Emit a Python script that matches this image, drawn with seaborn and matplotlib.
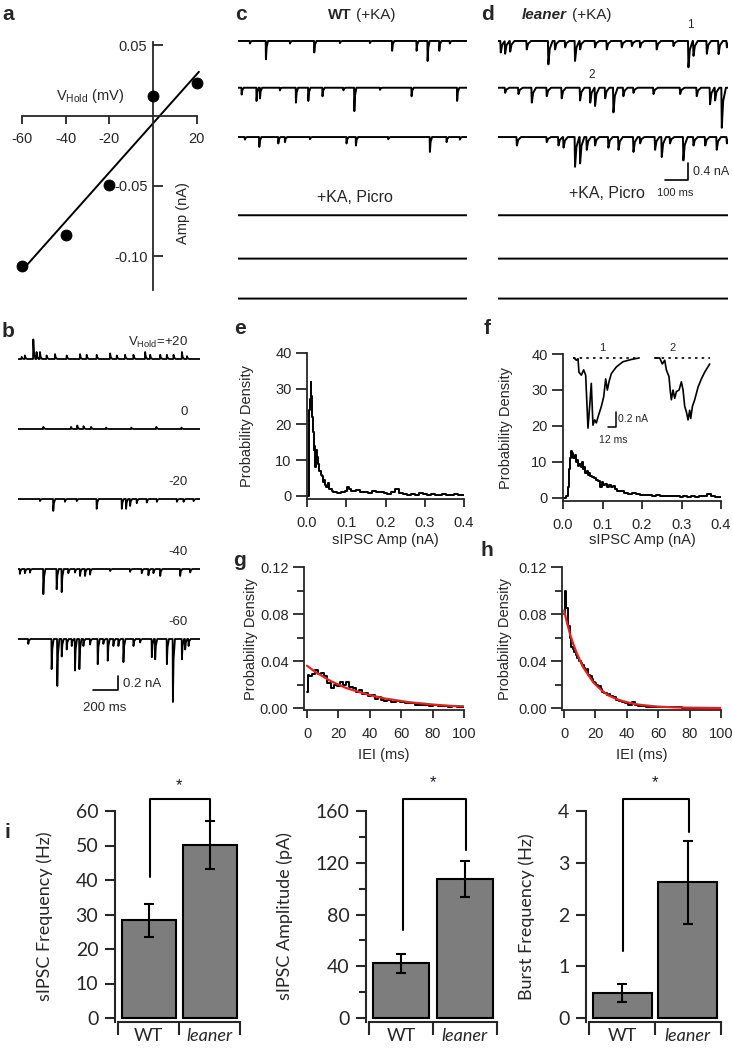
import matplotlib
matplotlib.use('Agg')
import matplotlib.pyplot as plt
import seaborn as sns
import numpy as np
from matplotlib.ticker import FormatStrFormatter, MultipleLocator

# ---------------- data ----------------
# a: I-V relation
iv_vhold = [-60, -40, -20, 0, 20]
iv_amp = [-0.107, -0.085, -0.049, 0.014, 0.023]
iv_fit_v = [-60, 21]
iv_fit_amp = [-0.11, 0.031]

# b: sIPSCs at several holding potentials (event time ms, amplitude nA)
b_labels = [r'V$_{\mathregular{Hold}}$=+20', '0', '-20', '-40', '-60']
b_times = [
    [27, 53, 120, 146, 173, 226, 293, 386, 492, 545, 625, 732, 785, 851, 918, 1011, 1051, 1131, 1184, 1237, 1304, 1344],
    [200, 420, 470, 520, 580, 700, 900, 1100, 1300],
    [173, 279, 372, 466, 625, 825, 859, 891, 944, 1024, 1104, 1264, 1317, 1397],
    [13, 53, 93, 200, 306, 346, 399, 452, 492, 532, 572, 732, 891, 984, 1037, 1077, 1131, 1290, 1370],
    [80, 266, 311, 346, 386, 426, 452, 487, 519, 572, 633, 678, 713, 758, 798, 838, 918, 971, 1064, 1091,
     1184, 1232, 1304, 1330, 1357],
]
b_amps = [
    [0.03, 0.05, 0.28, 0.1, 0.1, 0.05, 0.07, 0.05, 0.07, 0.06, 0.06, 0.08, 0.05, 0.06, 0.06, 0.1, 0.06, 0.06, 0.06, 0.06, 0.1, 0.04],
    [0.03, 0.03, 0.05, 0.04, 0.03, 0.02, 0.02, 0.03, 0.02],
    [-0.03, -0.17, -0.04, -0.03, -0.14, -0.14, -0.14, -0.1, -0.06, -0.05, -0.04, -0.04, -0.04, -0.03],
    [-0.07, -0.06, -0.05, -0.36, -0.29, -0.33, -0.06, -0.05, -0.1, -0.1, -0.08, -0.03, -0.04, -0.06, -0.09,
     -0.06, -0.1, -0.1, -0.05],
    [-0.07, -0.43, -0.67, -0.25, -0.15, -0.1, -0.45, -0.43, -0.1, -0.08, -0.36, -0.07, -0.31, -0.1, -0.1,
     -0.33, -0.1, -0.05, -0.26, -0.29, -0.36, -0.9, -0.29, -0.15, -0.1],
]

# c: WT (+KA) sweeps, then 3 sweeps with picrotoxin (no events)
c_times = [
    [51, 121, 226, 332, 444, 575, 672, 779, 827, 878, 924],
    [15, 80, 95, 182, 252, 306, 368, 459, 507, 619, 757, 956],
    [29, 92, 175, 204, 313, 473, 514, 655, 837, 910, 968],
    [], [], [],
]
c_amps = [
    [-0.06, -0.43, -0.06, -0.27, -0.05, -0.05, -0.23, -0.23, -0.47, -0.23, -0.06],
    [-0.16, -0.31, -0.25, -0.06, -0.35, -0.31, -0.2, -0.06, -0.55, -0.05, -0.2, -0.31],
    [-0.06, -0.23, -0.15, -0.12, -0.05, -0.15, -0.2, -0.05, -0.35, -0.12, -0.06],
    [], [], [],
]

# d: leaner (+KA) sweeps, then picrotoxin sweeps
d_times = [
    [10, 29, 51, 123, 217, 246, 290, 333, 355, 420, 471, 536, 580, 616, 688, 761, 826, 848, 906, 957, 993],
    [29, 87, 145, 210, 275, 355, 399, 420, 464, 500, 543, 587, 674, 790, 862, 920, 942, 971],
    [80, 210, 261, 283, 333, 355, 384, 420, 478, 522, 587, 616, 681, 710, 746, 804, 848, 899, 949, 993],
    [], [], [],
]
d_amps = [
    [-0.27, -0.3, -0.25, -0.2, -0.55, -0.2, -0.15, -0.47, -0.2, -0.15, -0.2, -0.15, -0.12, -0.15, -0.2,
     -0.12, -0.62, -0.35, -0.3, -0.31, -0.15],
    [-0.12, -0.15, -0.35, -0.2, -0.25, -0.3, -0.35, -0.43, -0.25, -0.58, -0.2, -0.12, -0.15, -0.15, -0.2,
     -0.39, -0.3, -0.94],
    [-0.2, -0.12, -0.2, -0.25, -0.7, -0.62, -0.3, -0.2, -0.25, -0.3, -0.35, -0.15, -0.3, -0.47, -0.15,
     -0.55, -0.2, -0.2, -0.3, -0.15],
    [], [], [],
]
sweep_offsets = [0, -1.1, -2.26, -4.1, -5.12, -6.06]

# e/f: amplitude distributions
e_amp = [0.0, 0.004, 0.006, 0.008, 0.010, 0.012, 0.014, 0.016, 0.018, 0.020, 0.022, 0.024, 0.026, 0.028,
         0.030, 0.033, 0.036, 0.039, 0.042, 0.045, 0.048, 0.051, 0.054, 0.057, 0.060, 0.065, 0.070, 0.075,
         0.080, 0.085, 0.090, 0.095, 0.100, 0.105, 0.110, 0.115, 0.120, 0.130, 0.140, 0.150, 0.160, 0.170,
         0.180, 0.190, 0.200, 0.210, 0.220, 0.230, 0.240, 0.250, 0.260, 0.270, 0.280, 0.290, 0.300, 0.310,
         0.320, 0.330, 0.340, 0.350, 0.360, 0.370, 0.380, 0.390, 0.400]
e_density = [0, 0, 24, 27, 32, 28, 22, 18, 13, 14, 8, 13, 11, 10,
             9, 7, 6, 5.5, 4, 4.5, 3, 2.5, 3.5, 2, 2, 1.5, 1, 1.2,
             0.8, 0.9, 1.2, 1, 1.5, 2.5, 2, 1.5, 1.5, 1.8, 1, 1.2, 0.8, 1.5,
             1, 1.2, 0.8, 0.5, 1.2, 2, 0.8, 0.5, 0.3, 0.5, 0.4, 0.8, 0.5, 0.3,
             0.5, 0.3, 0.4, 0.5, 0.3, 0.4, 0.5, 0.3, 0.4]
f_amp = [0.0, 0.005, 0.010, 0.013, 0.016, 0.019, 0.022, 0.025, 0.028, 0.031, 0.034, 0.037, 0.040, 0.043,
         0.046, 0.049, 0.052, 0.055, 0.058, 0.061, 0.064, 0.067, 0.070, 0.075, 0.080, 0.085, 0.090, 0.095,
         0.100, 0.105, 0.110, 0.115, 0.120, 0.125, 0.130, 0.135, 0.140, 0.150, 0.160, 0.170, 0.180, 0.190,
         0.200, 0.210, 0.220, 0.230, 0.240, 0.250, 0.260, 0.270, 0.280, 0.290, 0.300, 0.310, 0.320, 0.330,
         0.340, 0.350, 0.360, 0.370, 0.380, 0.390, 0.400]
f_density = [0, 0, 0.5, 3, 8, 11, 13, 12.5, 11, 12, 10, 10.5, 9, 9.5,
             8.5, 10, 8, 8.5, 7, 7.5, 6.5, 6.8, 6, 5.8, 5.5, 5, 4.8, 3,
             4.5, 3.5, 4, 3, 3.5, 3, 3.2, 2.5, 2, 1.8, 1.5, 1.2, 1.3, 1.0,
             0.9, 0.8, 0.8, 0.6, 0.7, 0.5, 0.6, 0.5, 0.5, 0.6, 0.4, 0.5, 0.4, 0.5,
             0.4, 0.5, 0.6, 1.0, 0.5, 0.3, 0.3]

# f inset: example events 1 and 2 (ms, nA)
ev1_t = [0, 3.7, 6.3, 7.8, 11.5, 15.1, 18.3, 21.9, 24.5, 27.1, 29.7, 32.4, 35.0, 37.6, 42.8, 46.5, 49.6,
         52.2, 54.8, 58.4, 66.3, 76.7, 89.8, 101.8]
ev1_i = [0, -0.03, -0.01, -0.19, -0.23, -0.16, -0.23, -0.94, -0.65, -0.34, -0.90, -0.83, -0.87, -0.79,
         -0.65, -0.52, -0.28, -0.43, -0.32, -0.21, -0.12, -0.05, -0.02, 0]
ev2_t = [0, 7.8, 12.0, 15.7, 18.3, 22.4, 24.5, 26.1, 28.7, 31.3, 34.0, 38.1, 41.8, 44.4, 47.0, 49.6, 52.2,
         54.8, 56.4, 59.0, 62.6, 67.9, 73.1, 78.3, 86.1]
ev2_i = [0, 0, -0.08, -0.03, -0.16, -0.25, -0.45, -0.56, -0.43, -0.54, -0.45, -0.43, -0.32, -0.43, -0.65,
         -0.72, -0.83, -0.70, -0.81, -0.65, -0.56, -0.39, -0.28, -0.19, -0.08]

# g/h: inter-event interval distributions + exponential fits
g_iei = [0, 1, 2, 4, 6, 8, 10, 12, 14, 16, 18, 20, 22, 24, 26, 28, 30, 32, 34, 36, 38, 40, 42, 44, 46, 48,
         50, 52, 55, 58, 61, 64, 67, 70, 73, 76, 79, 82, 85, 88, 91, 94, 97, 100]
g_density = [0.014, 0.028, 0.027, 0.029, 0.032, 0.029, 0.03, 0.027, 0.021, 0.017, 0.02, 0.019, 0.022, 0.02,
             0.022, 0.018, 0.017, 0.014, 0.015, 0.012, 0.013, 0.01, 0.011, 0.008, 0.009, 0.007, 0.006,
             0.007, 0.005, 0.006, 0.005, 0.004, 0.004, 0.003, 0.003, 0.003, 0.002, 0.003, 0.002, 0.002,
             0.001, 0.002, 0.001, 0.001]
g_fit_t = [0, 5, 10, 15, 20, 25, 30, 35, 40, 45, 50, 55, 60, 65, 70, 75, 80, 85, 90, 95, 100]
g_fit = [0.036, 0.031, 0.027, 0.023, 0.020, 0.017, 0.015, 0.013, 0.011, 0.0095, 0.008, 0.007, 0.006,
         0.005, 0.0043, 0.0037, 0.003, 0.0025, 0.002, 0.0017, 0.0015]
h_iei = [0, 1, 2, 3, 4, 5, 6, 7, 8, 9, 10, 11, 12, 13, 14, 15, 16, 17, 18, 19, 20, 21, 22, 23, 24, 25, 26,
         27, 28, 29, 30, 32, 34, 36, 38, 40, 42, 44, 46, 48, 50, 55, 60, 65, 70, 80, 90, 100]
h_density = [0.08, 0.1, 0.085, 0.07, 0.06, 0.052, 0.05, 0.048, 0.045, 0.043, 0.04, 0.038, 0.037, 0.034,
             0.032, 0.033, 0.028, 0.027, 0.025, 0.022, 0.021, 0.02, 0.018, 0.019, 0.016, 0.014, 0.013,
             0.013, 0.011, 0.012, 0.01, 0.009, 0.007, 0.006, 0.005, 0.004, 0.003, 0.005, 0.003, 0.002,
             0.0015, 0.001, 0.0008, 0.0006, 0.0005, 0.0004, 0.0003, 0.0002]
h_fit_t = [0, 2, 4, 6, 8, 10, 12, 14, 16, 18, 20, 24, 28, 32, 36, 40, 45, 50, 60, 70, 80, 100]
h_fit = [0.083, 0.072, 0.062, 0.054, 0.047, 0.041, 0.035, 0.031, 0.027, 0.023, 0.020, 0.015, 0.011,
         0.0085, 0.0065, 0.005, 0.0035, 0.0025, 0.0012, 0.0006, 0.0003, 0.0001]

# i: summary bars (mean, SEM)
genotypes = ['WT', 'leaner']
freq_mean = [28.3, 50.2]
freq_sem = [4.8, 6.9]
amp_mean = [42.3, 107.5]
amp_sem = [7.3, 13.8]
burst_mean = [0.48, 2.62]
burst_sem = [0.17, 0.80]

# ---------------- figure ----------------
W, H = 732, 1050
sns.set_style('ticks')
plt.rcParams['font.family'] = ['Liberation Sans', 'DejaVu Sans']
plt.rcParams['axes.unicode_minus'] = False
plt.rcParams['axes.linewidth'] = 1.3
plt.rcParams['xtick.major.width'] = 1.3
plt.rcParams['ytick.major.width'] = 1.3
plt.rcParams['ytick.minor.width'] = 1.3
fig = plt.figure(figsize=(W / 100, H / 100), dpi=100)


def px_axes(l, t, r, b):
    return fig.add_axes([l / W, 1 - b / H, (r - l) / W, (b - t) / H])


def ftext(x, y, s, **kw):
    fig.text(x / W, 1 - y / H, s, **kw)


def make_trace(times, amps, dur, rise, decay):
    t = np.arange(0, dur + 0.5, 0.5)
    y = np.zeros_like(t)
    for t0, a in zip(times, amps):
        y += a * np.interp(t, [t0, t0 + rise, t0 + rise + decay * 0.3, t0 + rise + decay],
                           [0, 1, 0.35, 0], left=0, right=0)
    return t, y


def draw_line(ax, x, y, **kw):
    sns.lineplot(x=x, y=y, ax=ax, estimator=None, sort=False, errorbar=None, **kw)


# panel labels
for lab, x, y in [('a', 8, 14), ('b', 8, 331), ('c', 241, 14), ('d', 488, 14), ('e', 240, 328),
                  ('f', 487, 328), ('g', 240, 560), ('h', 487, 550), ('i', 7, 832)]:
    ftext(x, y, lab, fontsize=15, fontweight='bold', ha='center', va='center')

# ---- a ----
ax = px_axes(17.6, 42.2, 201.1, 290.3)
sns.scatterplot(x=iv_vhold, y=iv_amp, ax=ax, color='k', s=62, edgecolor='k', zorder=3, clip_on=False)
draw_line(ax, iv_fit_v, iv_fit_amp, color='k', lw=1.4)
ax.set_xlim(-62, 22)
ax.set_ylim(-0.124, 0.052)
for s in ['top', 'right']:
    ax.spines[s].set_visible(False)
ax.spines['left'].set_position(('data', 0))
ax.spines['bottom'].set_position(('data', 0))
ax.spines['bottom'].set_bounds(-60, 20)
ax.set_xticks([-60, -40, -20, 20])
ax.set_yticks([0.05, -0.05, -0.10])
ax.set_yticklabels(['0.05', '-0.05', '-0.10'])
ax.tick_params(axis='x', direction='out', length=6, pad=6, labelsize=10.5)
ax.tick_params(axis='y', direction='in', length=7, pad=4, labelsize=10.5)
ax.set_xlabel('')
ax.set_ylabel('')
ftext(90, 96, r'V$_{\mathregular{Hold}}$ (mV)', fontsize=10.5, ha='center', va='center')
ftext(183, 213, 'Amp (nA)', fontsize=10.5, ha='center', va='center', rotation=90)

# ---- b ----
ax = px_axes(18, 320, 200, 720)
for k in range(5):
    t, y = make_trace(b_times[k], b_amps[k], 1450, 2, 16)
    draw_line(ax, t, y - k, color='k', lw=1.3)
    ax.text(1354, -k + 0.24, b_labels[k], fontsize=9.5, ha='right', va='center')
ax.set_xlim(0, 1450)
ax.set_ylim(-5.157, 0.557)
ax.plot([598, 798, 798], [-4.73, -4.73, -4.53], color='k', lw=1.2)
ax.text(837, -4.64, '0.2 nA', fontsize=9.5, ha='left', va='center')
ax.text(693, -4.99, '200 ms', fontsize=9.5, ha='center', va='center')
ax.axis('off')

# ---- c / d ----
for times, amps, left, right, rise, decay in [(c_times, c_amps, 238, 467, 1, 9),
                                              (d_times, d_amps, 498, 728, 2, 18)]:
    ax = px_axes(left, 25, right, 310)
    for k in range(6):
        t, y = make_trace(times[k], amps[k], 1000, rise, decay)
        draw_line(ax, t, y + sweep_offsets[k], color='k', lw=1.4)
    ax.set_xlim(0, 1000)
    ax.set_ylim(-6.329, 0.376)
    ax.axis('off')
    if left > 400:
        ax.plot([726, 826, 826], [-3.27, -3.27, -2.87], color='k', lw=1.2)
        ax.text(848, -3.08, '0.4 nA', fontsize=9, ha='left', va='center')
        ax.text(770, -3.58, '100 ms', fontsize=8, ha='center', va='center')

ftext(352, 15, 'WT', fontsize=11, fontweight='bold', ha='right', va='center')
ftext(356, 15, '(+KA)', fontsize=11, ha='left', va='center')
ftext(567, 15, 'leaner', fontsize=11, fontweight='bold', fontstyle='italic', ha='right', va='center')
ftext(572, 15, '(+KA)', fontsize=11, ha='left', va='center')
ftext(355, 198, '+KA, Picro', fontsize=11.5, ha='center', va='center')
ftext(607, 194, '+KA, Picro', fontsize=11.5, ha='center', va='center')
ftext(690, 25, '1', fontsize=8.5, ha='center', va='center')
ftext(592, 75, '2', fontsize=8.5, ha='center', va='center')


def style_hist(ax, xlabel_y, ylabel_x, rect):
    for s in ['top', 'right']:
        ax.spines[s].set_visible(False)
    ax.tick_params(axis='both', direction='out', labelsize=10.5)
    ax.tick_params(axis='x', length=6, pad=6)
    ax.tick_params(axis='y', length=8, pad=3)
    l, t, r, b = rect
    ax.xaxis.set_label_coords(0.5, (b - xlabel_y) / (b - t))
    ax.yaxis.set_label_coords((ylabel_x - l) / (r - l), 0.5)
    ax.xaxis.label.set_va('center')
    ax.yaxis.label.set_va('center')
    ax.xaxis.label.set_fontsize(10.5)
    ax.yaxis.label.set_fontsize(10.5)


# ---- e / f ----
for amp, dens, rect, ylx in [(e_amp, e_density, (307, 353, 464, 499.2), 247),
                             (f_amp, f_density, (563, 354, 721, 501.2), 506)]:
    ax = px_axes(*rect)
    draw_line(ax, amp, dens, color='k', lw=1.4, drawstyle='steps-mid')
    ax.set_xlim(0, 0.4)
    ax.set_ylim(-0.9, 40)
    ax.set_xticks([0, 0.1, 0.2, 0.3, 0.4])
    ax.set_yticks([0, 10, 20, 30, 40])
    ax.xaxis.set_major_formatter(FormatStrFormatter('%.1f'))
    ax.set_xlabel('sIPSC Amp (nA)')
    ax.set_ylabel('Probability Density')
    style_hist(ax, 540, ylx, rect)

# f inset traces
ax = px_axes(572, 352, 712, 430)
ev2_off = 126.3
draw_line(ax, ev1_t, ev1_i, color='k', lw=1.2)
draw_line(ax, [t + ev2_off for t in ev2_t], ev2_i, color='k', lw=1.2)
ax.plot([-1.6, 102.8], [0, 0], color='k', lw=1.2, ls=(0, (1.5, 2.5)))
ax.plot([ev2_off, ev2_off + 86.1], [0, 0], color='k', lw=1.2, ls=(0, (1.5, 2.5)))
ax.plot([53.2, 65.3, 65.3], [-0.92, -0.92, -0.72], color='k', lw=1.1)
ax.text(69, -0.82, '0.2 nA', fontsize=7.5, ha='left', va='center')
ax.text(61, -1.10, '12 ms', fontsize=7.5, ha='center', va='center', clip_on=False)
ax.text(44.4, 0.13, '1', fontsize=8, ha='center', va='center')
ax.text(154, 0.13, '2', fontsize=8, ha='center', va='center')
ax.set_xlim(-3.1, 216)
ax.set_ylim(-0.965, 0.08)
ax.axis('off')

# ---- g / h ----
for iei, dens, ft, fv, rect, ylx, xmin in [
        (g_iei, g_density, g_fit_t, g_fit, (303.9, 567, 464, 710.4), 251, -2),
        (h_iei, h_density, h_fit_t, h_fit, (562, 567, 721, 710.4), 505, -1.3)]:
    ax = px_axes(*rect)
    draw_line(ax, iei, dens, color='k', lw=1.4, drawstyle='steps-mid')
    draw_line(ax, ft, fv, color='#e3231f', lw=1.6)
    ax.set_xlim(xmin, 100)
    ax.set_ylim(-0.002, 0.12)
    ax.set_xticks([0, 20, 40, 60, 80, 100])
    ax.set_yticks([0, 0.04, 0.08, 0.12])
    ax.yaxis.set_minor_locator(MultipleLocator(0.02))
    ax.yaxis.set_major_formatter(FormatStrFormatter('%.2f'))
    ax.tick_params(axis='y', which='minor', direction='out', length=5)
    ax.set_xlabel('IEI (ms)')
    ax.set_ylabel('Probability Density')
    style_hist(ax, 755, ylx, rect)

# ---- i: bar charts ----
bar_specs = [
    (freq_mean, freq_sem, 'sIPSC Frequency (Hz)', (115, 811, 241.5, 1022), 60, 10, None, 45,
     (0.03, 41, 1.0, 57.5, 63.5, 67.5), 0.88),
    (amp_mean, amp_sem, 'sIPSC Amplitude (pA)', (366, 811, 498, 1022), 160, 40, 20, 285,
     (0.03, 68, 1.02, 130, 169.2, 182), 0.875),
    (burst_mean, burst_sem, 'Burst Frequency (Hz)', (586, 811, 722, 1022), 4, 1, None, 527,
     (0.02, 1.29, 1.02, 3.6, 4.23, 4.55), 0.9),
]
for means, sems, ylab, rect, ytop, ystep, yminor, ylx, br, bw in bar_specs:
    ax = px_axes(*rect)
    sns.barplot(x=genotypes, y=means, ax=ax, color='#7d7d7d', saturation=1, edgecolor='k',
                linewidth=1.5, width=bw)
    ax.errorbar([0, 1], means, yerr=sems, fmt='none', ecolor='k', elinewidth=1.5, capsize=3.6,
                capthick=1.5)
    ypx = (rect[3] - rect[1])
    ax.set_ylim(-ytop * 4 / (ypx - 4), ytop)
    ax.set_xlim(-0.55, 1.52)
    for s in ['top', 'right']:
        ax.spines[s].set_visible(False)
    ax.spines['left'].set_linewidth(1.5)
    ax.spines['bottom'].set_linewidth(1.5)
    ax.spines['bottom'].set_bounds(-0.5, 1.5)
    ax.set_yticks(np.arange(0, ytop + ystep / 2, ystep))
    if yminor:
        ax.yaxis.set_minor_locator(MultipleLocator(yminor))
        ax.tick_params(axis='y', which='minor', direction='out', length=5, width=1.5)
    ax.set_xticks([0, 1])
    ax.set_xticks([-0.5, 0.5, 1.5], minor=True)
    ax.tick_params(axis='x', which='major', length=0, pad=4.5)
    ax.tick_params(axis='x', which='minor', direction='out', length=9.5, width=1.5)
    ax.tick_params(axis='y', which='major', direction='out', length=7, width=1.5, pad=5)
    for lbl in ax.get_yticklabels():
        lbl.set_fontfamily('Lato')
        lbl.set_fontsize(14)
    for lbl in ax.get_xticklabels():
        lbl.set_fontfamily('Lato')
        lbl.set_fontsize(13)
    ax.get_xticklabels()[1].set_style('italic')
    ax.set_xlabel('')
    ax.set_ylabel(ylab, fontfamily='Lato', fontsize=13)
    ax.yaxis.set_label_coords((ylx - rect[0]) / (rect[2] - rect[0]), 0.5)
    ax.yaxis.label.set_va('center')
    x0, y0, x1, y1, top, star = br
    ax.plot([x0, x0, x1, x1], [y0, top, top, y1], color='k', lw=1.5, clip_on=False)
    ax.text(0.5, star, '*', ha='center', va='center', fontsize=12, color='#1a1a2e', clip_on=False)

fig.savefig('out.png', dpi=100)
